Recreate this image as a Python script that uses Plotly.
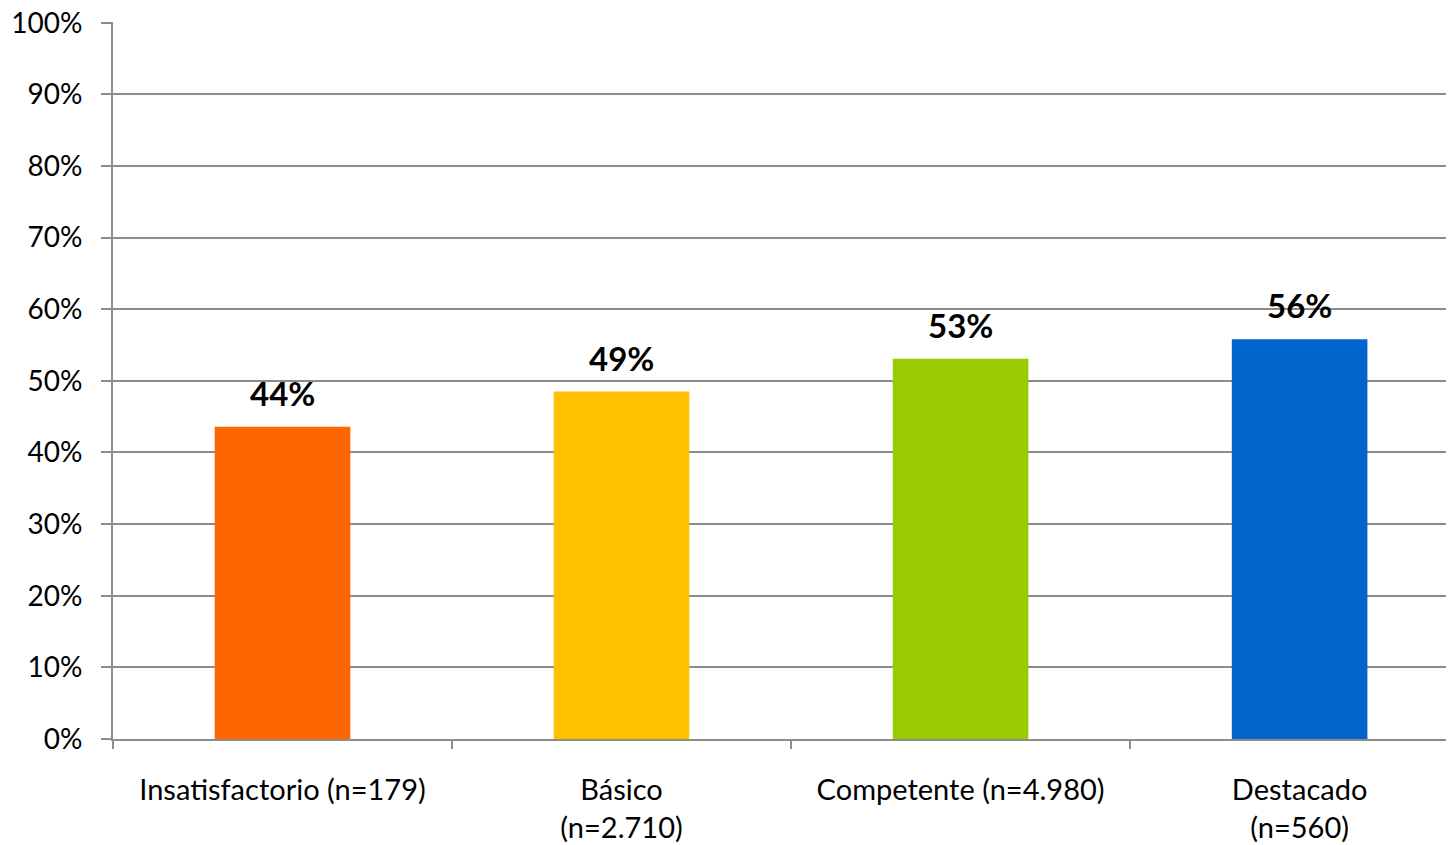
import plotly.graph_objects as go

categories = ["Insatisfactorio (n=179)", "Básico<br>(n=2.710)", "Competente (n=4.980)", "Destacado<br>(n=560)"]
values = [0.436, 0.485, 0.531, 0.558]
labels = ["44%", "49%", "53%", "56%"]
colors = ["#FF6600", "#FFC000", "#99CC00", "#0066CC"]
y_ticks = [i / 10 for i in range(11)]
y_tick_text = [f"{i*10}%" for i in range(11)]

FONT = "Lato, Open Sans, sans-serif"
GRID = "#8C8C8C"

fig = go.Figure()
fig.add_trace(go.Bar(
    x=categories, y=values, marker_color=colors, width=0.4,
    marker_line_width=0, showlegend=False, hoverinfo="skip",
))
for c, v, t in zip(categories, values, labels):
    fig.add_annotation(x=c, y=v, text=f"<b>{t}</b>", showarrow=False,
                       yanchor="bottom", yshift=12,
                       font=dict(family=FONT, size=33, color="black"))

fig.update_layout(
    width=1454, height=845,
    margin=dict(l=105, r=0, t=14, b=114),
    plot_bgcolor="white", paper_bgcolor="white",
    font=dict(family=FONT, size=29, color="black"),
)
fig.update_xaxes(
    range=[-0.5, 3.479], showline=True, linecolor=GRID, linewidth=2,
    ticks="outside", tickson="boundaries", ticklen=8, tickcolor=GRID, tickwidth=2,
    showgrid=False, tickfont=dict(family=FONT, size=29), fixedrange=True,
    automargin=False, ticklabelstandoff=24,
)
fig.update_yaxes(
    range=[0, 1.001], tickvals=y_ticks, ticktext=y_tick_text,
    showline=True, linecolor=GRID, linewidth=2,
    showgrid=True, gridcolor=GRID, gridwidth=2,
    ticks="outside", ticklen=10, tickcolor=GRID, tickwidth=2,
    tickfont=dict(family=FONT, size=28), zeroline=False,
    automargin=False, ticklabelstandoff=13, ticklabeloverflow="allow",
)
fig.write_html("out.html")
